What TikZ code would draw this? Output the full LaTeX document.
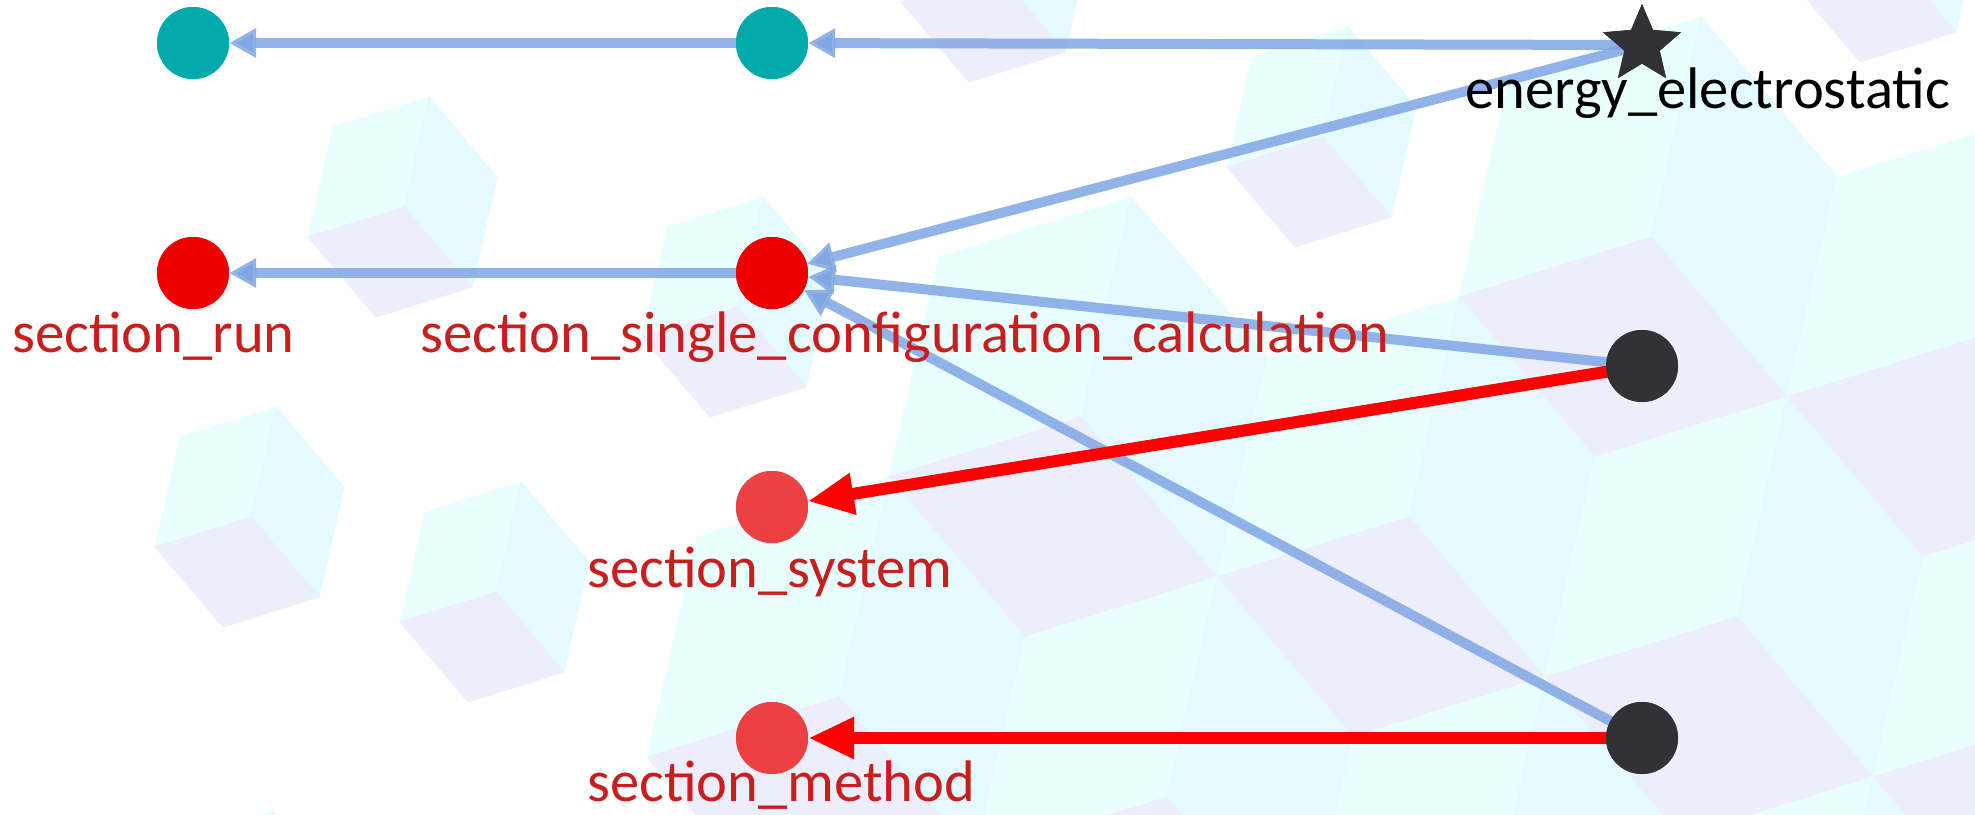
\documentclass[tikz,border=0pt]{standalone}
\usepackage{fontspec}
\setmainfont{Carlito}
\usetikzlibrary{arrows.meta,shapes.geometric}

% palette
\definecolor{faceL}{RGB}{233,255,255}
\definecolor{faceR}{RGB}{227,250,254}
\definecolor{faceB}{RGB}{237,237,252}
\definecolor{tealc}{RGB}{0,170,170}
\definecolor{redc}{RGB}{236,0,0}
\definecolor{lightredc}{RGB}{237,64,66}
\definecolor{darkc}{RGB}{50,50,54}
\definecolor{edgeblue}{RGB}{128,166,228}
\definecolor{edgered}{RGB}{255,0,0}
\definecolor{labelred}{RGB}{200,30,30}

% one background block: vertex G = (#1,#2), scale #3
\newcommand{\bgcube}[3]{%
  \filldraw[faceL] (#1,#2) -- ++(25*#3,-110*#3) -- ++(-96*#3,30*#3) -- ++(-25*#3,110*#3) -- cycle;
  \filldraw[faceR] (#1,#2) -- ++(25*#3,-110*#3) -- ++(68*#3,80*#3) -- ++(-25*#3,110*#3) -- cycle;
  \filldraw[faceB] (#1,#2) -- ++(-96*#3,30*#3) -- ++(68*#3,80*#3) -- ++(96*#3,-30*#3) -- cycle;
}

\tikzset{
  dot/.style={circle, minimum size=72pt, inner sep=0pt, draw=none},
  tealnode/.style={dot, fill=tealc},
  rednode/.style={dot, fill=redc},
  lightrednode/.style={dot, fill=lightredc},
  darknode/.style={dot, fill=darkc},
  starnode/.style={star, star points=5, star point ratio=2.2, minimum size=82pt, inner sep=0pt, fill=darkc, draw=none},
  blueedge/.style={draw=edgeblue, draw opacity=0.85, line width=10pt, -{Triangle[length=27pt,width=28pt]}},
  rededge/.style={draw=edgered, line width=12pt, -{Triangle[length=46pt,width=39pt]}},
  lbl/.style={inner sep=0pt, anchor=base west, font=\fontsize{58.6pt}{62pt}\selectfont},
  redlbl/.style={lbl, text=labelred},
  blacklbl/.style={lbl, text=black},
}

\begin{document}
\begin{tikzpicture}[x=1pt, y=-1pt, line join=miter]
\useasboundingbox (0,0) rectangle (1975,814);
\fill[white] (0,0) rectangle (1975,814);

% background blocks
\begin{scope}
  \clip (0,0) rectangle (1975,814);
  \tikzset{every path/.style={line width=0.8pt}}
  % large stacked blocks
  \bgcube{1651}{237}{2}
  \bgcube{1979}{337}{2}
  \bgcube{1081}{417}{2}
  \bgcube{1409}{517}{2}
  \bgcube{1737}{617}{2}
  \bgcube{2065}{717}{2}
  \bgcube{839}{697}{2}
  \bgcube{1167}{797}{2}
  \bgcube{1495}{897}{2}
  \bgcube{1823}{997}{2}
  % small loose blocks
  \bgcube{404}{207}{1}
  \bgcube{251}{517}{1}
  \bgcube{496}{592}{1}
  \bgcube{738}{307}{1}
  \bgcube{1323}{137}{1}
  \bgcube{997}{-28}{1}
  \bgcube{1888}{-48}{1}
  \bgcube{247}{921}{1}
\end{scope}

% nodes
\node[tealnode] (t1) at (193,43) {};
\node[tealnode] (t2) at (772,43) {};
\node[starnode] (st) at (1642,45) {};
\node[rednode] (run) at (193,273) {};
\node[rednode] (ssc) at (772,273) {};
\node[darknode] (b1) at (1642,366) {};
\node[lightrednode] (sys) at (772,507) {};
\node[lightrednode] (meth) at (772,738) {};
\node[darknode] (b2) at (1642,738) {};

% connectors
\draw[blueedge] (st.center) -- (t2);
\draw[blueedge] (t2.center) -- (t1);
\draw[blueedge] (ssc.center) -- (run);
\draw[blueedge] (st.center) -- (ssc);
\draw[blueedge] (b1.center) -- (ssc);
\draw[blueedge] (b2.center) -- (ssc);
\draw[rededge] (b1.center) -- (sys);
\draw[rededge] (b2.center) -- (meth);

% node discs drawn again over the connector tails
\fill[tealc] (t1) circle[radius=36pt];
\fill[tealc] (t2) circle[radius=36pt];
\fill[redc] (run) circle[radius=36pt];
\fill[redc] (ssc) circle[radius=36pt];
\fill[darkc] (b1) circle[radius=36pt];
\fill[lightredc] (sys) circle[radius=36pt];
\fill[lightredc] (meth) circle[radius=36pt];
\fill[darkc] (b2) circle[radius=36pt];
\node[starnode] at (st) {};

% labels
\node[redlbl] (lrun) at (12,352) {section\_run};
\node[redlbl] (lssc) at (420,352) {section\_single\_configuration\_calculation};
\node[redlbl] (lsys) at (587,587) {section\_system};
\node[redlbl] (lmeth) at (587,801) {section\_method};
\node[blacklbl] (lst) at (1465,108) {energy\_electrostatic};
\end{tikzpicture}
\end{document}
